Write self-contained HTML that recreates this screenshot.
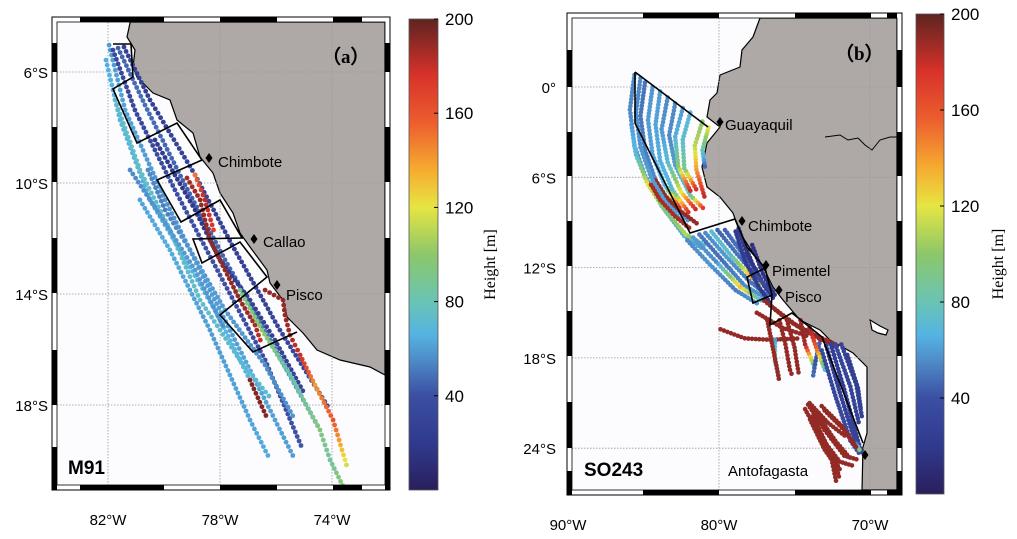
<!DOCTYPE html>
<html><head><meta charset="utf-8"><style>
html,body{margin:0;padding:0;background:#fff;}
svg{display:block;font-family:"Liberation Sans",sans-serif;}
</style></head><body>
<svg id="fig" width="1017" height="539" viewBox="0 0 1017 539" xmlns="http://www.w3.org/2000/svg">
<defs>
<linearGradient id="cbg" x1="0" y1="1" x2="0" y2="0">
<stop offset="0" stop-color="#2a1f5c"/><stop offset="0.1" stop-color="#303a8e"/><stop offset="0.2" stop-color="#3b4fa3"/><stop offset="0.28" stop-color="#4f8ec9"/><stop offset="0.33" stop-color="#55b3e2"/><stop offset="0.4" stop-color="#6ac4b4"/><stop offset="0.5" stop-color="#8cc76a"/><stop offset="0.6" stop-color="#e6e542"/><stop offset="0.68" stop-color="#f6ab30"/><stop offset="0.78" stop-color="#ec5e2e"/><stop offset="0.88" stop-color="#d8322a"/><stop offset="1" stop-color="#5e2420"/>
</linearGradient>
</defs>
<g id="panelA"></g>
<g id="panelB"></g>
</svg>
<script>
// ---- Panel A data (lon, lat, height) ----
const aLon = [
 [-81.96,-81.39,-79.96,-78.36,-76.75,-75.32],
 [-81.82,-81.04,-79.61,-78.0,-76.39,-75.04],
 [-81.64,-80.68,-79.25,-77.82,-76.21,-74.43],
 [-81.43,-80.5,-78.89,-77.57,-75.86,-74.07],
 [-82.07,-81.57,-80.5,-79.43,-78.18,-76.93,-76.29],
 [-81.75,-80.86,-79.79,-78.71,-77.29,-76.14],
 [-80.32,-79.61,-78.89,-78.0,-76.93,-76.04,-74.96],
 [-79.18,-78.71,-78.36,-77.82,-77.29,-76.75,-76.5],
 [-76.39,-75.75,-75.68,-75.5,-75.14,-74.61,-73.96,-73.43],
 [-77.29,-76.5,-75.5,-74.43,-74.07,-73.54],
 [-78.89,-78.54,-78.18],
 [-80.57,-79.96,-79.07,-77.82,-76.39,-75.32],
 [-80.86,-79.79,-78.36,-76.93,-76.21],
 [-81.21,-80.14,-78.89,-77.82]
];
const aLat = [
 [-5.03,-7.37,-10.61,-13.86,-17.10,-19.98],
 [-5.21,-7.37,-10.25,-13.32,-16.38,-19.62],
 [-5.14,-7.19,-10.07,-12.77,-15.66,-18.9],
 [-5.1,-7.01,-9.71,-12.23,-15.3,-18.18],
 [-5.57,-7.73,-10.61,-12.41,-14.58,-17.1,-18.54],
 [-7.01,-9.53,-11.69,-14.22,-16.38,-17.82],
 [-8.45,-9.71,-10.97,-12.77,-14.22,-15.66,-17.64],
 [-9.82,-10.61,-12.05,-13.14,-14.22,-15.12,-15.84],
 [-13.86,-14.22,-14.76,-15.48,-16.2,-17.28,-18.54,-20.34],
 [-13.86,-15.3,-16.92,-18.9,-19.98,-21.06],
 [-9.71,-10.61,-11.87],
 [-9.53,-10.97,-12.41,-14.58,-16.56,-18.54],
 [-10.61,-12.41,-15.3,-18.54,-19.98],
 [-9.53,-11.15,-13.14,-15.3]
];
const aH = [
 [60,62,58,60,62,60],[35,33,38,40,36,42],[45,48,44,46,50,52],[28,26,30,25,30,32],
 [65,68,64,70,66,68],[72,75,70,74,70,72],[22,20,18,22,25,28,30],
 [190,195,195,195,195,190,180],[195,195,195,190,180,140,160,110],
 [90,100,80,95,85,100],[150,185,170],[55,52,58,60,55,58],[62,64,60,62,64],[55,58,60,56]
];
// ---- Panel B data ----
const bLon = [
 [-85.6,-85.9,-85.6,-84.9,-83.8,-82.3,-81.0],[-84.9,-85.2,-84.9,-84.2,-83.1,-81.9],
 [-83.9,-84.2,-83.9,-83.1,-81.9],[-82.9,-83.3,-82.9,-81.9,-80.9],[-81.9,-82.4,-82.3,-81.4],
 [-81.1,-81.6,-81.5,-80.9],[-80.7,-81.1,-80.9],[-84.2,-83.6,-82.6,-81.3],
 [-85.2,-85.5,-85.2,-84.5,-83.4,-82.0],[-84.4,-84.7,-84.4,-83.6,-82.5],[-83.4,-83.8,-83.4,-82.5,-81.4],[-82.4,-82.9,-82.7,-81.8],
 [-85.8,-85.5,-84.7,-83.5,-82.2,-80.8],[-84.5,-83.9,-82.9,-81.8],
 [-82.1,-80.6,-78.9,-77.3],[-81.3,-79.8,-78.3,-76.6],[-80.5,-79.2,-77.8,-76.6],[-79.6,-78.5,-77.4],
 [-78.7,-78.1,-77.0,-76.3],[-78.3,-77.6,-76.6],
 [-81.7,-80.2,-78.6,-77.0],[-80.9,-79.5,-78.0,-76.7],[-80.1,-78.8,-77.6,-76.4],[-78.9,-78.3,-77.3,-76.5],[-77.8,-77.1,-76.2],
 [-77.0,-75.3,-73.6,-72.3],[-79.9,-78.3,-76.6,-74.6],[-76.0,-75.6,-75.3,-75.1],[-74.6,-74.3,-73.6],
 [-76.3,-76.3,-76.0],[-73.3,-73.6,-73.8],
 [-76.5,-74.8,-73.2,-72.0],[-77.5,-75.8,-74.0],[-76.8,-76.5,-76.2,-76.0],[-75.5,-75.0,-74.7],[-74.0,-73.5,-72.9],
 [-72.6,-71.7,-70.8,-70.5],[-71.9,-70.9,-70.5],[-73.2,-72.3,-71.3,-70.6],
 [-72.9,-72.0,-71.0,-70.6],[-72.3,-71.3,-70.7],[-71.5,-70.8,-70.6],
 [-74.1,-73.0,-71.7,-70.7],[-73.97,-73.0,-72.1],[-73.6,-72.3,-71.2],[-73.3,-72.3,-72.0],[-73.0,-71.7,-70.8],
 [-74.3,-73.3,-72.0,-71.0],[-73.8,-72.8,-71.9],[-73.5,-72.6,-72.2],[-73.2,-71.9,-71.0],[-74.0,-72.8,-71.5]
];
const bLat = [
 [0.8,-1.5,-3.9,-5.9,-7.9,-9.9,-10.8],[0.3,-1.9,-4.2,-6.2,-7.9,-9.0],
 [-0.3,-2.5,-4.9,-6.8,-8.5],[-1.1,-3.2,-5.2,-7.2,-8.2],[-1.7,-3.5,-5.4,-7.0],
 [-2.3,-3.9,-5.5,-7.5],[-2.7,-4.2,-5.5],[-6.2,-7.2,-8.2,-9.2],
 [0.6,-1.7,-4.0,-6.0,-7.9,-9.4],[0,-2.2,-4.5,-6.5,-8.2],[-0.7,-2.8,-5.0,-7.0,-8.3],[-1.4,-3.3,-5.3,-7.1],
 [-2.5,-4.5,-6.5,-8.3,-9.8,-10.6],[-6.5,-7.5,-8.6,-9.5],
 [-10.2,-11.8,-13.5,-14.5],[-9.8,-11.5,-13.2,-14.2],[-9.6,-11.2,-12.7,-13.5],[-9.5,-11.0,-12.3],
 [-9.4,-11.2,-13.2,-14.2],[-10.5,-12.2,-13.8],
 [-10.0,-11.6,-13.3,-14.3],[-9.7,-11.3,-12.9,-13.9],[-9.5,-11.1,-12.5,-13.7],[-9.6,-11.5,-13.4,-14.5],[-10.5,-12.4,-14.0],
 [-14.2,-15.6,-16.5,-17.1],[-16.1,-16.7,-16.8,-16.7],[-15.5,-17.1,-18.8,-19.3],[-15.5,-17.1,-18.8],
 [-16.8,-18.2,-19.4],[-16.8,-18.2,-19.4],
 [-14.6,-15.9,-16.8,-17.3],[-15.0,-16.0,-16.6],[-15.5,-17.0,-18.5,-19.6],[-15.5,-17.3,-19.2],[-16.0,-17.5,-19.0],
 [-17.1,-20.1,-23.5,-24.5],[-17.1,-19.8,-22.1],[-17.5,-20.5,-23.5,-24.5],
 [-17.2,-20.3,-23.5,-24.3],[-17.1,-19.9,-22.5],[-17.8,-20,-21.5],
 [-21.1,-22.8,-24.5,-24.8],[-22.1,-24.1,-25.4],[-21.6,-23.5,-24.8],[-22.9,-25.0,-26.1],[-21.5,-22.8,-24.1],
 [-21.4,-23.2,-24.9,-25.2],[-21.9,-23.9,-25.6],[-22.5,-24.5,-26.4],[-21.2,-22.5,-23.8],[-21.0,-22.3,-23.3]
];
const bH = [
 [55,55,58,60,62,65,60],[50,50,52,55,58,60],[60,62,65,70,190],[55,55,60,80,190],[70,72,90,190],
 [100,110,140,190],[120,80,40],[195,195,195,195],
 [55,55,58,60,62,60],[58,60,62,66,190],[55,58,70,120,190],[60,65,100,190],
 [60,70,120,90,110,60],[190,190,190,190],
 [55,58,52,60],[50,48,55,60],[70,75,140,80],[45,50,40],[20,18,22,20],[15,18,20],
 [60,55,130,60],[55,60,50,45],[45,50,40,30],[20,22,20,18],[15,15,18],
 [195,195,195,195],[195,195,195,195],[195,195,195,195],[195,190,60],[60,90,70],[45,40,50],
 [195,195,195,195],[195,195,195],[195,195,195,195],[195,195,195],[195,150,60],
 [25,22,28,30],[30,28,26],[35,32,38,40],[28,26,30,120],[32,30,28],[25,24,26],
 [195,195,195,195],[195,195,195],[195,195,195],[195,195,195],[195,195,195],
 [195,195,195,195],[195,195,195],[195,195,195],[195,195,195],[195,195,195]
];
const cbTicks = [40,80,120,160,200];

const NS='http://www.w3.org/2000/svg';
function mk(parent,tag,attrs,text){const e=document.createElementNS(NS,tag);for(const k in attrs)e.setAttribute(k,attrs[k]);if(text!==undefined)e.textContent=text;parent.appendChild(e);return e;}
const stops=[[0,[42,31,92]],[20,[48,58,142]],[40,[59,79,163]],[56,[79,142,201]],[66,[85,179,226]],[80,[106,196,180]],[100,[140,199,106]],[120,[230,229,66]],[136,[246,171,48]],[156,[236,94,46]],[176,[216,50,42]],[200,[130,40,36]]];
function cmap(v){v=Math.max(0,Math.min(200,v));for(let i=1;i<stops.length;i++){if(v<=stops[i][0]){const a=stops[i-1],b=stops[i];const t=(v-a[0])/(b[0]-a[0]);const c=a[1].map((x,j)=>Math.round(x+(b[1][j]-x)*t));return `rgb(${c})`;}}return 'rgb(130,40,36)';}

function panel(g,cfg){
 const {x0,y0,x1,y1,px,py,lonTicks,latTicks,land,border,boxes,cb,places,lonLab,latLab,tagText,cruise,tagPos,cruisePos,lonData,latData,hData,r,step}=cfg;
 const bg=mk(g,'rect',{x:x0,y:y0,width:x1-x0,height:y1-y0,fill:'#fcfbfd'});
 
 
 const l=mk(g,'path',{d:land,fill:'#aea9a6',stroke:'#000','stroke-width':1.2});
 
 
 if(border){const b=mk(g,'path',{d:border,fill:'none',stroke:'#000','stroke-width':1});
 
 }
 const gridG=mk(g,'g',{stroke:'#999','stroke-width':0.8,'stroke-dasharray':'1.5,1.5'});
 
 
 lonTicks.forEach((t,i)=>{const x=px(t);mk(gridG,'line',{x1:x,x2:x,y1:y0,y2:y1});
  const tx=mk(g,'text',{x:x,y:y1+cfg.lonLabY,'font-size':15,'text-anchor':'middle'},lonLab[i]);
  
  });
 latTicks.forEach((t,i)=>{const y=py(t);mk(gridG,'line',{x1:x0,x2:x1,y1:y,y2:y});
  const tx=mk(g,'text',{x:x0-cfg.latLabDX,y:y+6,'font-size':15,'text-anchor':'end'},latLab[i]);
  
  });
 const dots=mk(g,'g',{});
 
 
 for(let k=0;k<lonData.length;k++){
  const lo=lonData[k],la=latData[k],h=hData[k];
  for(let i=0;i<lo.length-1;i++){
   const ax=px(lo[i]),ay=py(la[i]),bx=px(lo[i+1]),by=py(la[i+1]);
   const d=Math.hypot(bx-ax,by-ay),n=Math.max(1,Math.round(d/step));
   for(let j=0;j<n;j++){const t=j/n;
    const c=mk(dots,'circle',{cx:(ax+(bx-ax)*t).toFixed(1),cy:(ay+(by-ay)*t).toFixed(1),r:r,fill:cmap(h[i]+(h[i+1]-h[i])*t)});
    
    }
  }
 }
 const bx=mk(g,'path',{d:boxes,fill:'none',stroke:'#000','stroke-width':1.6});
 
 
 places.forEach(p=>{const [dx,dy,tx,ty,name]=p;
  if(dx!==null){const dm=mk(g,'path',{d:`M${dx},${dy-5}L${dx+3.5},${dy}L${dx},${dy+5}L${dx-3.5},${dy}Z`,fill:'#000'});
  
  }
  const t=mk(g,'text',{x:tx,y:ty,'font-size':15},name);
  
  });
 const fr=mk(g,'g',{});
 
 
 const w=5;
 function segs(list,horiz,pos){for(let i=0;i<list.length-1;i++){const col=(i%2===0)?cfg.firstCol:(cfg.firstCol==='#000'?'#fff':'#000');
  if(horiz)mk(fr,'rect',{x:list[i],y:pos,width:list[i+1]-list[i],height:w,fill:col});
  else mk(fr,'rect',{x:pos,y:list[i],width:w,height:list[i+1]-list[i],fill:col});}}
 segs(cfg.hSeg,true,y0-w);segs(cfg.hSeg2,true,y1);segs(cfg.vSeg,false,x0-w);segs(cfg.vSeg,false,x1);
 mk(fr,'rect',{x:x0-w,y:y0-w,width:x1-x0+2*w,height:y1-y0+2*w,fill:'none',stroke:'#000','stroke-width':1});
 mk(fr,'rect',{x:x0,y:y0,width:x1-x0,height:y1-y0,fill:'none',stroke:'#000','stroke-width':0.8});
 const tg=mk(g,'text',{x:tagPos[0],y:tagPos[1],'font-size':19,'font-weight':'bold','font-family':'"Liberation Serif",serif'},tagText);
 
 
 const cr=mk(g,'text',{x:cruisePos[0],y:cruisePos[1],'font-size':19,'font-weight':'bold'},cruise);
 
 
 const cbr=mk(g,'rect',{x:cb.x,y:cb.y0,width:cb.w,height:cb.y1-cb.y0,fill:'url(#cbg)',stroke:'#555','stroke-width':0.8});
 
 
 const cy=v=>cb.y1-(v/200)*(cb.y1-cb.y0);
 cbTicks.forEach(v=>{const y=cy(v);
  mk(g,'line',{x1:cb.x+cb.w-4,x2:cb.x+cb.w,y1:y,y2:y,stroke:'#000','stroke-width':1});
  const t=mk(g,'text',{x:cb.x+cb.w+7,y:y+6,'font-size':17},String(v));
  
  });
 const yc=(cb.y0+cb.y1)/2+10;
 const ct=mk(g,'text',{x:cb.tx,y:yc,'font-size':16,'text-anchor':'middle','font-family':'"Liberation Serif",serif',transform:`rotate(-90 ${cb.tx} ${yc})`},'Height [m]');
 
 
}

panel(document.getElementById('panelA'),{
 x0:57,y0:22,x1:385,y1:485,
 px:lon=>108+(lon+82)*28, py:lat=>72+(-lat-6)*27.75,
 lonTicks:[-82,-78,-74],lonLab:['82°W','78°W','74°W'],latTicks:[-6,-10,-14,-18],latLab:['6°S','10°S','14°S','18°S'],
 lonLabY:40,latLabDX:9,
 land:'M130,22 L130,23 L127,37 L135,50 L133,67 L137,77 L153,93 L170,100 L177,120 L193,133 L200,157 L213,173 L220,193 L233,213 L240,233 L250,247 L267,270 L270,283 L283,300 L287,317 L303,333 L317,350 L340,360 L370,367 L385,375 L385,22 Z',
 border:null,
 boxes:'M113,44 L131,44 L133,77 L113,89 L137,143 L177,123 L202,160 L157,180 L181,222 L220,200 L242,238 L193,239 L202,263 L240,242 L267,277 L220,315 L253,352 L297,332',
 cb:{x:409,w:29,y0:19,y1:490,tx:495},
 places:[[209,158,218,167,'Chimbote'],[254,239,263,247,'Callao'],[277,285,286,300,'Pisco']],
 tagText:'（a）',tagPos:[322,63],cruise:'M91',cruisePos:[68,474],
 lonData:aLon,latData:aLat,hData:aH,r:2.4,step:5,
 hSeg:[52,80,164,220,277,333,362,390],hSeg2:[52,80,164,220,277,333,362,390],
 vSeg:[17,43,72,127,182,238,293,350,405,447,490],firstCol:'#fff'
});
panel(document.getElementById('panelB'),{
 x0:572,y0:18,x1:897,y1:490,
 px:lon=>568+(lon+90)*15.1, py:lat=>87-lat*15.05,
 lonTicks:[-90,-80,-70],lonLab:['90°W','80°W','70°W'],latTicks:[0,-6,-12,-18,-24],latLab:['0°','6°S','12°S','18°S','24°S'],
 lonLabY:40,latLabDX:16,
 land:'M760,18 L753,37 L742,50 L740,67 L720,75 L717,93 L710,100 L707,117 L720,127 L707,143 L702,167 L707,187 L720,197 L733,213 L740,233 L753,253 L763,267 L773,287 L783,300 L800,320 L820,330 L830,340 L853,353 L867,367 L867,433 L863,447 L862,490 L897,490 L897,18 Z M870,320 L880,326 L888,330 L886,335 L878,333 L872,330 Z',
 border:'M825,137 L840,135 L848,140 L858,138 L865,145 L872,150 L880,140 L890,137 L897,137',
 boxes:'M635,72 L708,127 M635,72 L635,123 L690,233 L735,219 L747,247 L765,268 L747,277 L753,303 L772,295 L770,325 L792,313 L822,337 L863,443 M765,268 L772,295',
 cb:{x:916,w:28,y0:14,y1:494,tx:1003},
 places:[[720,122,725,130,'Guayaquil'],[742,221,748,231,'Chimbote'],[766,265,772,276,'Pimentel'],[779,290,785,302,'Pisco'],[865,455,728,476,'Antofagasta']],
 tagText:'（b）',tagPos:[835,60],cruise:'SO243',cruisePos:[584,476],
 lonData:bLon,latData:bLat,hData:bH,r:2.3,step:3.5,
 hSeg:[567,643,719,795,871,887,902],hSeg2:[567,643,719,795,871,887,902],
 vSeg:[13,50,87,132,176,221,266,311,356,402,448,471,495],firstCol:'#fff'
});
</script>
</body></html>
